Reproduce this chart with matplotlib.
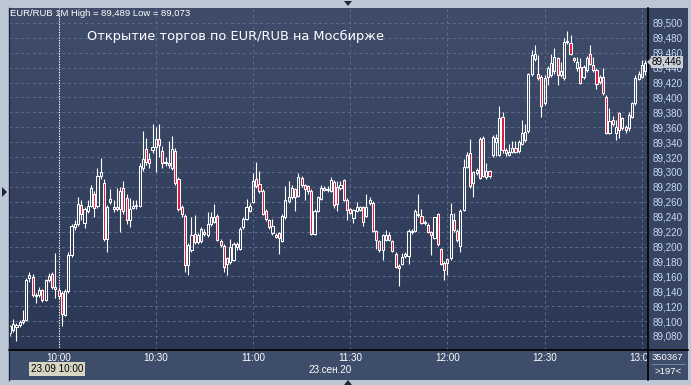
import numpy as np
import matplotlib.pyplot as plt
from matplotlib.patches import Rectangle, Polygon
from matplotlib.lines import Line2D
from matplotlib.colors import LinearSegmentedColormap
from matplotlib.transforms import Bbox, TransformedBbox

plt.rcParams['font.family'] = ['Liberation Sans', 'DejaVu Sans']

# EUR/RUB, 1-minute candles from 09:45, price = 89 + value / 1000
open_k = [84, 88, 92, 94, 99, 102, 158, 159, 133, 135,
          141, 128, 155, 163, 146, 142, 137, 108, 140, 188,
          226, 230, 256, 232, 248, 255, 271, 255, 295, 285,
          210, 260, 250, 253, 250, 278, 265, 236, 252, 256,
          255, 305, 331, 318, 330, 334, 344, 328, 312, 312,
          306, 328, 291, 253, 241, 175, 195, 217, 206, 208,
          220, 215, 230, 233, 241, 208, 201, 177, 179, 182,
          199, 197, 226, 237, 248, 260, 291, 284, 275, 248,
          235, 218, 213, 218, 207, 239, 261, 266, 277, 268,
          292, 282, 281, 275, 217, 248, 264, 278, 276, 275,
          286, 280, 279, 289, 263, 251, 238, 248, 249, 253,
          241, 258, 259, 221, 207, 195, 209, 216, 207, 190,
          171, 177, 187, 187, 219, 221, 244, 241, 231, 229,
          220, 212, 243, 196, 178, 178, 184, 235, 221, 201,
          249, 307, 325, 285, 298, 344, 295, 293, 301, 323,
          340, 323, 374, 330, 323, 327, 332, 328, 338, 343,
          355, 431, 451, 432, 428, 392, 428, 430, 435, 453,
          430, 426, 474, 473, 453, 439, 441, 428, 437, 459,
          444, 437, 421, 428, 401, 353, 370, 352, 379, 359,
          361, 359, 374, 392, 425, 428, 435]
high_k = [95, 103, 98, 101, 115, 158, 166, 163, 137, 146,
          143, 157, 165, 166, 191, 146, 140, 143, 192, 230,
          236, 266, 262, 253, 262, 282, 274, 306, 319, 290,
          256, 277, 262, 278, 280, 288, 270, 265, 262, 263,
          312, 355, 346, 326, 364, 361, 364, 335, 320, 342,
          348, 332, 293, 256, 244, 205, 240, 242, 218, 226,
          224, 246, 246, 257, 243, 210, 203, 186, 210, 206,
          206, 226, 239, 264, 258, 299, 313, 301, 277, 250,
          237, 237, 218, 220, 243, 281, 288, 282, 279, 299,
          294, 284, 283, 277, 250, 268, 282, 281, 281, 293,
          289, 288, 288, 291, 265, 252, 251, 260, 255, 255,
          271, 267, 261, 222, 209, 217, 222, 220, 209, 192,
          176, 191, 192, 223, 223, 251, 271, 251, 235, 231,
          221, 240, 245, 198, 180, 185, 258, 245, 223, 250,
          318, 327, 344, 302, 305, 347, 348, 312, 303, 350,
          351, 389, 380, 332, 338, 342, 341, 343, 370, 365,
          433, 464, 470, 457, 430, 430, 442, 459, 466, 455,
          448, 480, 489, 484, 455, 455, 453, 443, 456, 470,
          455, 439, 430, 439, 403, 386, 375, 370, 381, 374,
          363, 381, 394, 430, 435, 450, 450]
low_k = [80, 85, 73, 92, 96, 100, 153, 132, 124, 132,
         126, 127, 153, 143, 131, 130, 93, 107, 138, 186,
         222, 228, 236, 225, 245, 253, 240, 252, 290, 207,
         192, 257, 246, 247, 219, 244, 230, 226, 250, 251,
         253, 302, 310, 305, 325, 300, 320, 305, 308, 306,
         303, 283, 248, 240, 166, 162, 193, 204, 203, 205,
         214, 213, 228, 231, 207, 199, 166, 162, 177, 180,
         195, 195, 224, 235, 246, 258, 279, 272, 242, 234,
         224, 216, 211, 190, 206, 237, 259, 264, 248, 266,
         280, 262, 270, 215, 215, 246, 262, 274, 273, 273,
         252, 247, 276, 261, 236, 243, 232, 246, 247, 227,
         239, 256, 219, 196, 193, 182, 207, 207, 192, 171,
         147, 175, 185, 177, 217, 219, 240, 230, 229, 218,
         189, 210, 201, 175, 155, 162, 182, 220, 206, 193,
         247, 305, 279, 267, 296, 290, 293, 291, 292, 320,
         322, 321, 326, 322, 321, 325, 325, 326, 336, 340,
         352, 429, 449, 424, 374, 390, 417, 428, 432, 417,
         427, 424, 472, 457, 448, 436, 418, 425, 434, 443,
         434, 412, 418, 404, 351, 351, 362, 343, 345, 357,
         353, 355, 372, 390, 423, 426, 430]
close_k = [93, 96, 94, 99, 102, 155, 162, 135, 135, 141,
           128, 155, 160, 146, 143, 133, 110, 140, 188, 228,
           230, 257, 244, 250, 254, 278, 252, 295, 300, 210,
           253, 264, 253, 250, 275, 248, 235, 250, 255, 254,
           308, 318, 313, 312, 334, 344, 336, 312, 314, 309,
           331, 285, 250, 244, 175, 202, 215, 206, 215, 224,
           217, 230, 239, 239, 209, 202, 173, 184, 199, 204,
           204, 224, 237, 253, 255, 288, 281, 275, 244, 237,
           226, 228, 215, 211, 241, 263, 266, 278, 266, 293,
           282, 277, 275, 217, 248, 266, 279, 276, 277, 289,
           256, 257, 282, 263, 249, 245, 249, 253, 253, 233,
           253, 262, 221, 209, 195, 215, 216, 209, 194, 173,
           174, 186, 190, 221, 221, 248, 242, 232, 233, 220,
           216, 239, 203, 177, 169, 183, 244, 222, 209, 248,
           307, 323, 281, 300, 303, 292, 346, 301, 294, 347,
           345, 373, 330, 325, 327, 332, 327, 340, 352, 354,
           431, 457, 459, 426, 388, 426, 439, 446, 455, 430,
           436, 475, 476, 459, 450, 448, 420, 441, 453, 445,
           437, 418, 428, 406, 352, 368, 365, 361, 356, 372,
           356, 377, 392, 426, 432, 444, 446]

time_ticks = [15, 45, 75, 105, 135, 165, 195]
time_labels = ["10:00", "10:30", "11:00", "11:30", "12:00", "12:30", "13:00"]
price_ticks = [89.08, 89.10, 89.12, 89.14, 89.16, 89.18, 89.20, 89.22, 89.24, 89.26, 89.28,
               89.30, 89.32, 89.34, 89.36, 89.38, 89.40, 89.42, 89.44, 89.46, 89.48, 89.50]

o = 89 + np.array(open_k) / 1000
h = 89 + np.array(high_k) / 1000
l = 89 + np.array(low_k) / 1000
c = 89 + np.array(close_k) / 1000
x = np.arange(len(c))

W, H = 691, 385
def fx(px):
    return px / W
def fy(py):
    return 1 - py / H

fig = plt.figure(figsize=(W / 100, H / 100), dpi=100, facecolor="#bcc7d6")

# panels behind the chart
fig.patches.append(Rectangle((fx(648), fy(350)), 40 / W, 342 / H, transform=fig.transFigure,
                             facecolor="#36445f", edgecolor="none", zorder=-2))
fig.patches.append(Rectangle((fx(9), fy(380)), 679 / W, 30 / H, transform=fig.transFigure,
                             facecolor="#3e4d6a", edgecolor="none", zorder=-2))

ax = fig.add_axes([fx(9), fy(350), 639 / W, 342 / H])
x0, x1 = -0.3, 196.9
y0, y1 = 89.0611, 89.5201
ax.set_xlim(x0, x1)
ax.set_ylim(y0, y1)

bg = LinearSegmentedColormap.from_list("bg", ["#3f4d6a", "#2b3855"])
ax.imshow(np.linspace(0, 1, 256)[:, None], cmap=bg, aspect="auto",
          extent=[x0, x1, y0, y1], origin="upper", zorder=0, interpolation="bicubic")

# grid
for p in price_ticks:
    ax.axhline(p, color="#5c6c8c", lw=0.7, ls=(0, (3, 3)), zorder=1)
for t in time_ticks[1:]:
    ax.axvline(t, color="#5c6c8c", lw=0.7, ls=(0, (3, 3)), zorder=1)
ax.axvline(time_ticks[0], color="white", lw=0.8, ls=(0, (1.2, 1.2)), zorder=1)

# candles
top = np.maximum(o, c)
bot = np.minimum(o, c)
ax.vlines(x, top, h, color="white", lw=0.8, zorder=2)
ax.vlines(x, l, bot, color="white", lw=0.8, zorder=2)
down = c < o
face = np.where(down, "#e2163c", "none")
ax.bar(x, top - bot, bottom=bot, width=0.66, color=face, edgecolor="white",
       linewidth=0.75, zorder=3)

ax.yaxis.tick_right()
ax.set_yticks(price_ticks, [f"{p:.3f}".replace(".", ",") for p in price_ticks])
ax.tick_params(axis="y", length=0, pad=3, labelsize=7.1, labelcolor="#c6d9f4")
ax.set_xticks(time_ticks, time_labels)
ax.tick_params(axis="x", length=0, pad=2.5, labelsize=7.1, labelcolor="white")
# the last time label is cut by the price panel, as in the terminal
clip = TransformedBbox(Bbox([[fx(9), fy(382)], [fx(647), fy(350)]]), fig.transFigure)
for lab in ax.get_xticklabels():
    lab.set_clip_box(clip)
    lab.set_clip_on(True)
for s in ["top", "left"]:
    ax.spines[s].set_visible(False)
ax.spines["bottom"].set_color("black")
ax.spines["bottom"].set_linewidth(1.2)
ax.spines["right"].set_color("black")
ax.spines["right"].set_linewidth(1.2)

# frame lines
fig.add_artist(Line2D([fx(648), fx(648)], [fy(350), fy(380)], color="black", lw=1.2))
fig.add_artist(Line2D([fx(648), fx(688)], [fy(350), fy(350)], color="black", lw=1.2))
fig.add_artist(Line2D([fx(8.5), fx(8.5)], [fy(8), fy(380)], color="#1e2638", lw=1.0))
fig.add_artist(Line2D([fx(652), fx(685)], [fy(364), fy(364)], color="#8090a8", lw=0.6))

# texts
fig.text(fx(10), fy(13), f"EUR/RUB 1M High = {h.max():.3f} Low = {l.min():.3f}".replace(".", ","),
         color="white", fontsize=6.8, va="center")
fig.text(fx(87), fy(36), "Открытие торгов по EUR/RUB на Мосбирже", color="white",
         fontsize=9.4, va="center", family=["DejaVu Sans"])
fig.text(fx(330), fy(370), "23.сен.20", color="white", fontsize=7.1, ha="center", va="center")
fig.text(fx(57), fy(369), "23.09 10:00", color="black", fontsize=7.1, ha="center", va="center",
         bbox=dict(facecolor="#d6d6c2", edgecolor="none", pad=1.2))
fig.text(fx(652), fy(357), "350367", color="white", fontsize=6.8, ha="left", va="center")
fig.text(fx(668), fy(372), f">{len(c)}<", color="white", fontsize=6.8, ha="center", va="center")
fig.text(fx(652), fy(62), f"{c[-1]:.3f}".replace(".", ","), color="black", fontsize=7.1,
         va="center", zorder=5, bbox=dict(facecolor="#c9ced8", edgecolor="none", pad=0.9))
fig.patches.append(Polygon([(fx(647), fy(62)), (fx(651), fy(58)), (fx(651), fy(66))],
                           closed=True, transform=fig.transFigure, facecolor="#c9ced8",
                           edgecolor="none", zorder=5))

# small navigation triangles
tri = dict(closed=True, transform=fig.transFigure, facecolor="#1e2638", edgecolor="none")
fig.patches.append(Polygon([(fx(344), fy(1)), (fx(352), fy(1)), (fx(348), fy(6))], **tri))
fig.patches.append(Polygon([(fx(2), fy(187)), (fx(2), fy(197)), (fx(7), fy(192))], **tri))
fig.patches.append(Polygon([(fx(344), fy(385)), (fx(352), fy(385)), (fx(348), fy(380))], **tri))

fig.savefig("out.png", dpi=100, facecolor=fig.get_facecolor())
